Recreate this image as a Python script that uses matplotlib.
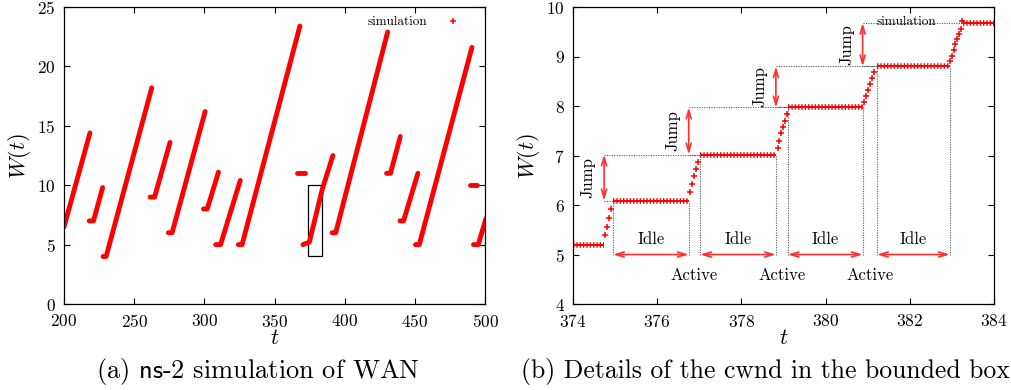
import matplotlib
matplotlib.use('Agg')
import matplotlib.pyplot as plt
from matplotlib.lines import Line2D

plt.rcParams['font.family'] = ['cmr10', 'DejaVu Serif']
plt.rcParams['mathtext.fontset'] = 'cm'
plt.rcParams['axes.formatter.use_mathtext'] = True

# cwnd traces of the WAN run: each segment is (times, windows) at its corners
seg_t = [
    [200.0, 218.5],
    [218.0, 221.0, 227.5],
    [227.8, 230.0, 262.5],
    [261.3, 264.5, 275.5],
    [274.3, 277.0, 300.5],
    [299.3, 302.0, 310.0],
    [308.0, 311.5, 325.5],
    [324.1, 326.8, 368.0],
    [365.6, 371.5],
    [370.2, 374.7, 384.0, 391.5],
    [390.9, 393.5, 430.5],
    [429.7, 432.5, 439.5],
    [439.3, 441.8, 452.0],
    [450.3, 453.0, 490.5],
    [489.2, 494.0],
    [491.6, 495.0, 500.5],
]
seg_w = [
    [6.5, 14.4],
    [7.0, 7.0, 9.8],
    [4.0, 4.0, 18.2],
    [9.0, 9.0, 13.6],
    [6.0, 6.0, 16.2],
    [8.0, 8.0, 11.1],
    [5.0, 5.0, 10.4],
    [5.0, 5.0, 23.4],
    [11.0, 11.0],
    [5.0, 5.2, 9.7, 12.5],
    [6.0, 6.0, 22.9],
    [11.0, 11.0, 14.1],
    [7.0, 7.0, 11.0],
    [5.0, 5.0, 21.6],
    [10.0, 10.0],
    [5.0, 5.0, 7.2],
]

# zoomed window 374..384: idle plateaus and the acks in between
flat_t0 = [374.0, 374.95, 377.02, 379.10, 381.22, 383.27]
flat_t1 = [374.74, 376.75, 378.82, 380.88, 382.95, 384.2]
flat_w = [5.19, 6.09, 7.02, 7.97, 8.80, 9.68]
ramp_t = [374.77, 374.82, 374.86, 374.91,
          376.78, 376.82, 376.87, 376.93, 376.97,
          378.86, 378.90, 378.95, 378.99, 379.04, 379.09,
          380.92, 380.96, 381.01, 381.05, 381.10, 381.14,
          382.96, 383.00, 383.04, 383.08, 383.13, 383.18, 383.22]
ramp_w = [5.39, 5.56, 5.74, 5.92,
          6.26, 6.42, 6.59, 6.73, 6.87,
          7.16, 7.30, 7.45, 7.57, 7.70, 7.83,
          8.09, 8.21, 8.33, 8.45, 8.57, 8.69,
          8.91, 9.02, 9.13, 9.25, 9.35, 9.46, 9.56]

RED = '#ff0000'
ARROW_RED = '#ff3030'

fig = plt.figure(figsize=(10.11, 3.9), dpi=100)
ax1 = fig.add_axes([0.0633, 0.2205, 0.4167, 0.7615])
ax2 = fig.add_axes([0.5667, 0.2205, 0.4165, 0.7615])

for ax in (ax1, ax2):
    ax.tick_params(direction='in', top=True, right=True, length=4, width=0.8,
                   labelsize=12.5)
    ax.tick_params(axis='x', pad=6.5)
    ax.tick_params(axis='y', pad=6)
    for s in ax.spines.values():
        s.set_linewidth(0.9)

# --- (a) whole run ---
for t, w in zip(seg_t, seg_w):
    ax1.plot(t, w, color=RED, lw=3.5, solid_capstyle='round', clip_on=True)
ax1.add_patch(plt.Rectangle((374, 4), 10, 6, fill=False, ec='black', lw=0.9))
ax1.set_xlim(200, 500)
ax1.set_ylim(0, 25)
ax1.set_xticks(range(200, 501, 50))
ax1.set_yticks(range(0, 26, 5))
ax1.set_xlabel(r'$t$', fontsize=16, labelpad=-1)
ax1.set_ylabel(r'$W(t)$', fontsize=16, labelpad=3)

# --- (b) zoom on the box ---
for t0, t1, w in zip(flat_t0, flat_t1, flat_w):
    ax2.plot([t0, t1], [w, w], color=RED, lw=1.4, solid_capstyle='butt')
    ax2.plot([t0, t1], [w, w], color=RED, lw=4.0, ls=(0, (0.25, 0.35)),
             dash_capstyle='butt')
ax2.plot(ramp_t, ramp_w, ls='none', marker='+', ms=5, mew=1.1, color=RED)

dot = dict(color='0.35', lw=0.8, ls=(0, (1, 1.2)))
arrow = dict(arrowstyle='<->,head_length=0.6,head_width=0.18',
             color=ARROW_RED, lw=1.2, shrinkA=0, shrinkB=0)
for i in range(4):
    tj = flat_t1[i]
    w_lo, w_hi = flat_w[i + 1], flat_w[i + 2]
    ax2.plot([tj, flat_t0[i + 1]], [w_lo, w_lo], **dot)
    ax2.plot([tj, flat_t0[i + 2]], [w_hi, w_hi], **dot)
    ax2.annotate('', xy=(tj, w_hi), xytext=(tj, w_lo), arrowprops=arrow)
    ax2.text(tj - 0.2, (w_lo + w_hi) / 2, 'Jump', rotation=90, fontsize=12,
             ha='right', va='center')

for k in range(1, 5):
    t0, t1, w = flat_t0[k], flat_t1[k], flat_w[k]
    ax2.plot([t0, t0], [5, w], **dot)
    ax2.plot([t1, t1], [5, w], **dot)
    ax2.annotate('', xy=(t1, 5), xytext=(t0, 5), arrowprops=arrow)
    ax2.text((t0 + t1) / 2, 5.3, 'Idle', fontsize=12, ha='center', va='center')
for k in range(1, 4):
    ax2.text((flat_t1[k] + flat_t0[k + 1]) / 2, 4.57, 'Active', fontsize=12,
             ha='center', va='center')

ax2.set_xlim(374, 384)
ax2.set_ylim(4, 10)
ax2.set_xticks(range(374, 385, 2))
ax2.set_yticks(range(4, 11))
ax2.set_xlabel(r'$t$', fontsize=16, labelpad=-1)
ax2.set_ylabel(r'$W(t)$', fontsize=16, labelpad=3)

key = Line2D([], [], ls='none', marker='+', ms=5, mew=1.1, color=RED)
for ax in (ax1, ax2):
    ax.legend([key], ['simulation'], loc='upper right', frameon=False,
              bbox_to_anchor=(0.969, 1.0), markerfirst=False, fontsize=9.5,
              handlelength=1.5, handletextpad=1.2, borderaxespad=0.3)

fig.text(0.2547, 0.047, r'(a) $\mathsf{ns}$-$\mathsf{2}$ simulation of WAN',
         fontsize=19, ha='center', va='center')
fig.text(0.5153, 0.047, '(b) Details of the cwnd in the bounded box',
         fontsize=18.5, ha='left', va='center')

fig.savefig('out.png', dpi=100)
